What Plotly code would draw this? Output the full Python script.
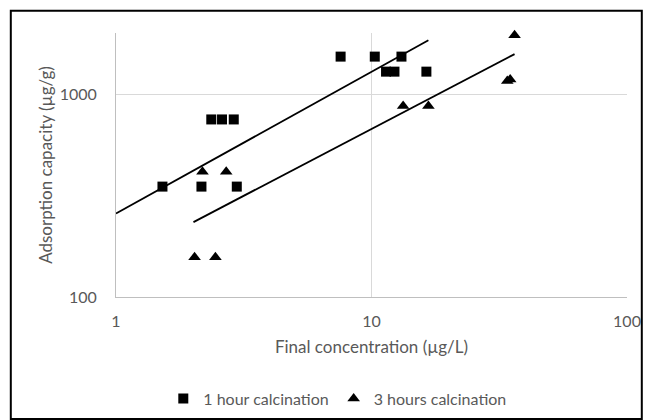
import plotly.graph_objects as go

# 1 hour calcination (squares)
sq_x = [1.52, 2.16, 2.97, 2.36, 2.60, 2.89, 7.57, 10.3, 13.1, 11.4, 12.3, 16.4]
sq_y = [350, 350, 350, 750, 750, 750, 1530, 1530, 1530, 1290, 1290, 1290]

# 3 hours calcination (triangles)
tri_x = [2.03, 2.45, 2.18, 2.70, 13.3, 16.7, 34.0, 34.9, 36.3]
tri_y = [157, 157, 414, 414, 873, 873, 1160, 1180, 1950]

# power trend lines (endpoints)
trend1_x = [1.0, 16.7]
trend1_y = [258, 1841]
trend2_x = [2.01, 36.3]
trend2_y = [234, 1574]

x_ticks = [1, 10, 100]
y_ticks = [100, 1000]

FONT = "Lato"
GRAY = "#595959"

fig = go.Figure()
fig.add_trace(go.Scatter(x=trend1_x, y=trend1_y, mode="lines",
                         line=dict(color="black", width=1.8), showlegend=False, hoverinfo="skip"))
fig.add_trace(go.Scatter(x=trend2_x, y=trend2_y, mode="lines",
                         line=dict(color="black", width=1.8), showlegend=False, hoverinfo="skip"))
fig.add_trace(go.Scatter(x=sq_x, y=sq_y, mode="markers", name="1 hour calcination", cliponaxis=False,
                         marker=dict(symbol="square", size=10, color="black")))
fig.add_trace(go.Scatter(x=tri_x, y=tri_y, mode="markers", name="3 hours calcination", cliponaxis=False,
                         marker=dict(symbol="triangle-up", size=11, color="black")))

L, R, T, B = 115.7, 22.3, 33.3, 123.3
W, H = 649, 420
pw, ph = W - L - R, H - T - B

def px2paper_x(px):
    return (px - L) / pw

def px2paper_y(py):
    return (H - B - py) / ph

fig.update_layout(
    width=W, height=H,
    margin=dict(l=L, r=R, t=T, b=B, autoexpand=False),
    paper_bgcolor="white", plot_bgcolor="white",
    font=dict(family=FONT, size=16, color=GRAY),
    xaxis=dict(type="log", range=[0, 2], tickvals=x_ticks, ticktext=[str(v) for v in x_ticks],
               showgrid=True, gridcolor="#d9d9d9", gridwidth=1,
               showline=True, linecolor="#bfbfbf", linewidth=1, zeroline=False,
               ticks="", ticklabelstandoff=10, tickfont=dict(size=16, color=GRAY),
               title=dict(text="Final concentration (µg/L)", font=dict(size=17, color=GRAY), standoff=11)),
    yaxis=dict(type="log", range=[2, 3.30103], tickvals=y_ticks, ticktext=[str(v) for v in y_ticks],
               showgrid=True, gridcolor="#d9d9d9", gridwidth=1,
               showline=True, linecolor="#bfbfbf", linewidth=1, zeroline=False,
               ticks="", ticklabelstandoff=15, tickfont=dict(size=16, color=GRAY),
               title=dict(text="Adsorption capacity (µg/g)", font=dict(size=17, color=GRAY), standoff=2)),
    legend=dict(orientation="h", x=px2paper_x(337), xanchor="center",
                y=px2paper_y(398), yanchor="middle", font=dict(size=16, color=GRAY),
                itemwidth=30, tracegroupgap=0, bgcolor="rgba(0,0,0,0)"),
    shapes=[dict(type="rect", xref="paper", yref="paper",
                 x0=px2paper_x(10.5), x1=px2paper_x(641.5),
                 y0=px2paper_y(418.5), y1=px2paper_y(11),
                 line=dict(color="black", width=2), layer="above")],
)

fig.write_html("out.html", config={"displayModeBar": False},
               post_script="document.body.style.margin='0';document.body.style.padding='0';")
